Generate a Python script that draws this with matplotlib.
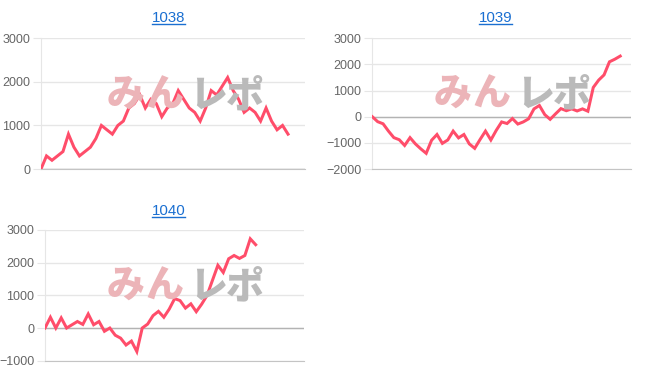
import matplotlib
matplotlib.use("Agg")
import matplotlib.pyplot as plt
from matplotlib.lines import Line2D

# Data
titles = ["1038", "1039", "1040"]
n_labels = 49  # category slots on the x axis

s1038 = [0, 300, 200, 300, 400, 800, 500, 300, 400, 500, 700, 1000, 900, 800, 1000,
         1100, 1400, 1500, 1700, 1400, 1600, 1500, 1200, 1400, 1500, 1800, 1600, 1400,
         1300, 1100, 1400, 1800, 1700, 1900, 2100, 1800, 1600, 1300, 1400, 1300, 1100,
         1400, 1100, 900, 1000, 800]
s1039 = [0, -190, -270, -550, -800, -880, -1100, -800, -1040, -1230, -1400, -900, -680,
         -1020, -890, -550, -810, -680, -1040, -1210, -870, -550, -890, -520, -200, -260,
         -70, -280, -200, -80, 300, 430, 80, -100, 110, 310, 230, 300, 220, 300, 210,
         1120, 1400, 1600, 2100, 2200, 2320]
s1040 = [0, 330, 0, 310, 0, 100, 200, 110, 430, 100, 200, -100, 0, -220, -310, -520,
         -400, -720, 0, 120, 380, 510, 330, 580, 900, 840, 610, 740, 500, 730, 1000,
         1460, 1920, 1700, 2120, 2220, 2130, 2220, 2730, 2550]
series = [s1038, s1039, s1040]
ylims = [(0, 3000), (-2000, 3000), (-1000, 3000)]

W, H = 652, 382
# axes boxes in pixels: left, right, top, bottom
boxes = [(41, 304.5, 38.3, 169), (372.3, 631, 38.3, 169), (45, 304.3, 230, 360.7)]
title_pos = [(168.5, 18.5), (495.5, 18.5), (168.5, 211)]
wm_offset = [(0, 0), (327, -1), (0, 191)]

LINE = "#ff4d6a"
GRID = "#e6e6e6"
LABEL = "#666666"
LINK = "#1a6fd1"
FONT = ["Liberation Sans", "DejaVu Sans"]
JP = ["Noto Sans CJK JP", "DejaVu Sans"]

fig = plt.figure(figsize=(W / 100, H / 100), dpi=100)

def px(v):
    return v * 72 / 100

title_texts = []
for k in range(3):
    l, r, t, b = boxes[k]
    ax = fig.add_axes([l / W, 1 - b / H, (r - l) / W, (b - t) / H])

    # watermark behind the line
    dx, dy = wm_offset[k]
    for ch, cx, col in [("み", 126, "#ecb4b8"), ("ん", 164, "#ecb4b8"),
                        ("レ", 208, "#bababa"), ("ポ", 245, "#bababa")]:
        fig.text((cx + dx) / W, 1 - (96 + dy) / H, ch, ha="center", va="center",
                 fontsize=px(38), fontweight="black", family=JP, color=col,
                 zorder=0)

    ax.set_facecolor("none")
    ax.plot(range(len(series[k])), series[k], color=LINE, lw=px(3), zorder=3,
            solid_joinstyle="miter")
    ax.set_xlim(0, n_labels - 1)
    ax.set_ylim(*ylims[k])
    lo, hi = ylims[k]
    ax.set_yticks(range(lo, hi + 1, 1000))
    ax.set_xticks([])
    ax.grid(axis="y", color=GRID, lw=1)
    ax.axhline(0, color="#b3b3b3", lw=1, zorder=2)
    for s in ["top", "right"]:
        ax.spines[s].set_visible(False)
    ax.spines["left"].set_color(GRID)
    ax.spines["bottom"].set_color("#c4c4c4")
    ax.tick_params(axis="y", length=px(8), color=GRID, pad=2, labelsize=px(12.5),
                   labelcolor=LABEL)
    for lab in ax.get_yticklabels():
        lab.set_family(FONT)

    tx, ty = title_pos[k]
    tt = fig.text(tx / W, 1 - ty / H, titles[k], ha="center", va="center",
                  fontsize=px(15), family=FONT, color=LINK)
    title_texts.append(tt)

# underline the link titles
renderer = fig.canvas.get_renderer()
for tt in title_texts:
    bb = tt.get_window_extent(renderer)
    y = bb.y0 + 1.5
    fig.add_artist(Line2D([bb.x0 / W, bb.x1 / W], [y / H, y / H],
                          transform=fig.transFigure, color=LINK, lw=1))

fig.savefig("out.png", dpi=100)
